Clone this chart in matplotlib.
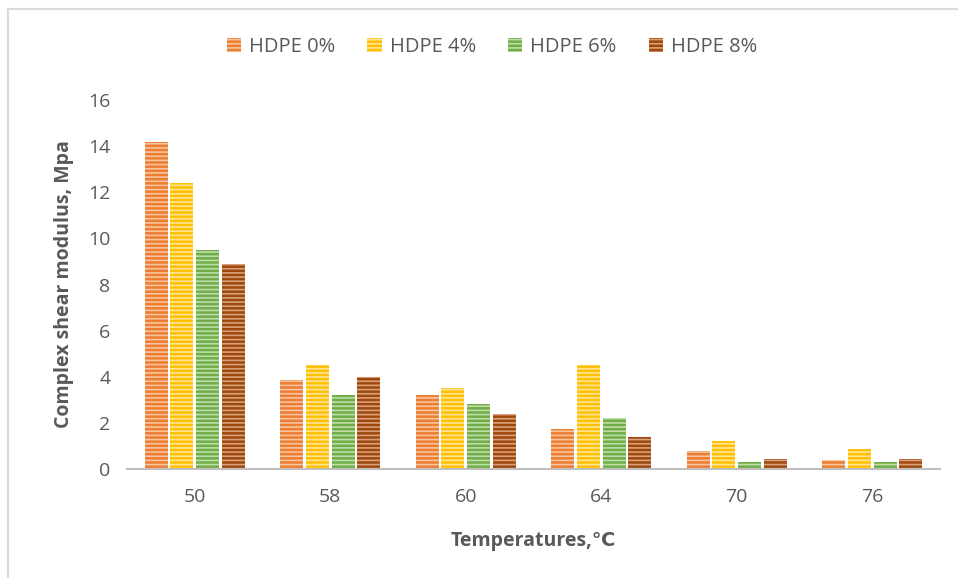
import matplotlib.pyplot as plt
import numpy as np
from matplotlib.patches import Rectangle

temps = ['50', '58', '60', '64', '70', '76']
series = ['HDPE 0%', 'HDPE 4%', 'HDPE 6%', 'HDPE 8%']
hdpe0 = [14.2, 3.85, 3.2, 1.75, 0.8, 0.4]
hdpe4 = [12.4, 4.5, 3.5, 4.5, 1.2, 0.85]
hdpe6 = [9.5, 3.2, 2.8, 2.2, 0.3, 0.3]
hdpe8 = [8.9, 4.0, 2.4, 1.4, 0.45, 0.45]

colors = ['#ED7D31', '#FFC000', '#70AD47', '#9E480E']
stripes = ['#F7C4A0', '#FFE49A', '#BEDDA8', '#D9A07A']

plt.rcParams['font.family'] = ['Open Sans', 'DejaVu Sans']
plt.rcParams['hatch.linewidth'] = 1.2

fig = plt.figure(figsize=(9.58, 5.78), dpi=100)
ax = fig.add_axes([127 / 958, 1 - 469 / 578, (940 - 127) / 958, (469 - 100) / 578])

x = np.arange(len(temps))
slot = 0.19
w = 0.17
for i, vals in enumerate([hdpe0, hdpe4, hdpe6, hdpe8]):
    ax.bar(x + (i - 1.5) * slot, vals, w, color=colors[i], edgecolor=stripes[i],
           linewidth=0, hatch='----', label=series[i])

ax.set_xlim(-0.5, len(temps) - 0.5)
ax.set_ylim(0, 16)
ax.set_yticks(range(0, 17, 2))
ax.set_xticks(x, temps)
for s in ['top', 'right', 'left']:
    ax.spines[s].set_visible(False)
ax.spines['bottom'].set_color('#BFBFBF')
ax.spines['bottom'].set_linewidth(1.5)
ax.tick_params(length=0, labelsize=14, labelcolor='#595959', pad=12)
ax.tick_params(axis='x', pad=14)

ax.set_ylabel('Complex shear modulus, Mpa', fontsize=14, fontweight='bold',
              color='#595959', labelpad=10)
ax.set_xlabel('Temperatures,\u2103', fontsize=14, fontweight='bold',
              color='#595959', labelpad=18)

fig.legend(loc='center', bbox_to_anchor=(492 / 958, 1 - 47 / 578), ncol=4,
           frameon=False, fontsize=14.5, labelcolor='#595959', handlelength=0.7,
           handleheight=0.7, columnspacing=1.6, handletextpad=0.4)

fig.patches.append(Rectangle((8 / 958, -0.1), 1.2, 1 - 9 / 578 + 0.1,
                             transform=fig.transFigure, fill=False,
                             edgecolor='#D9D9D9', linewidth=1.5))

fig.savefig('out.png', dpi=100)
